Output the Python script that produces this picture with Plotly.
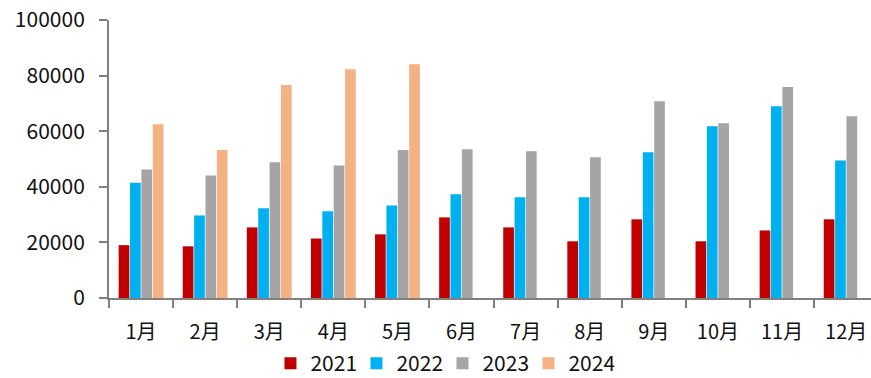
import plotly.graph_objects as go

# Monthly values by year
months = ["1月", "2月", "3月", "4月", "5月", "6月", "7月", "8月", "9月", "10月", "11月", "12月"]
v2021 = [19000, 18600, 25400, 21400, 22900, 29000, 25400, 20400, 28300, 20400, 24300, 28300]
v2022 = [41500, 29700, 32300, 31200, 33300, 37300, 36200, 36200, 52400, 61800, 69000, 49500]
v2023 = [46200, 44100, 48800, 47700, 53200, 53500, 52800, 50600, 70800, 62900, 75900, 65400]
v2024 = [62500, 53200, 76600, 82300, 84100, None, None, None, None, None, None, None]

series = [
    ("2021", v2021, "#C00000"),
    ("2022", v2022, "#00B0F0"),
    ("2023", v2023, "#A5A5A5"),
    ("2024", v2024, "#F4B183"),
]

FONT = "Noto Sans CJK SC, Noto Sans, sans-serif"
AXIS = "#808080"

fig = go.Figure()
for name, vals, color in series:
    fig.add_trace(go.Bar(x=months, y=vals, name=name, marker_color=color,
                         marker_line_width=0))

fig.update_layout(
    width=871, height=378,
    margin=dict(l=109, r=0, t=20, b=80, autoexpand=False),
    paper_bgcolor="white", plot_bgcolor="white",
    barmode="group", bargap=0.29, bargroupgap=0.06,
    font=dict(family=FONT, size=20, color="#111111"),
    showlegend=True,
    legend=dict(orientation="h", xref="container", yref="container",
                x=0.508, y=0.038, xanchor="center", yanchor="middle",
                font=dict(size=21), itemwidth=30, entrywidth=41,
                tracegroupgap=0),
)
fig.update_xaxes(
    type="category", range=[-0.5, 11.388],
    showline=True, linecolor=AXIS, linewidth=2,
    ticks="outside", tickson="boundaries", ticklen=8, tickwidth=2, tickcolor=AXIS,
    showgrid=False, tickfont=dict(size=20), ticklabelstandoff=15,
)
fig.update_yaxes(
    range=[0, 100000], dtick=20000, tickformat="d",
    showline=True, linecolor=AXIS, linewidth=2,
    ticks="outside", ticklen=8, tickwidth=2, tickcolor=AXIS,
    showgrid=False, zeroline=False, tickfont=dict(size=21), ticklabelstandoff=10,
)

fig.write_html("out.html")
